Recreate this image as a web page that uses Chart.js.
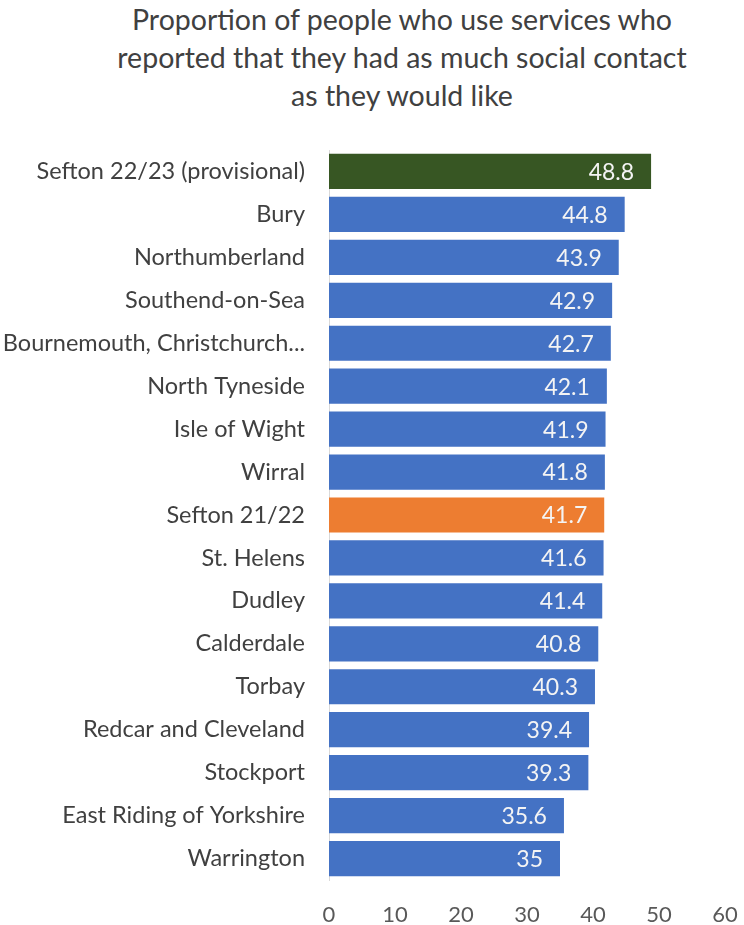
<!DOCTYPE html>
<html>
<head>
<meta charset="utf-8">
<script src="https://cdn.jsdelivr.net/npm/chart.js@4.4.1/dist/chart.umd.min.js"></script>
<style>
  html, body { margin: 0; padding: 0; background: #fff; }
  .wrap { position: relative; width: 744px; height: 925px; }
  .title {
    position: absolute; left: 60px; right: 0; top: 0px;
    text-align: center; font-family: Lato, sans-serif; font-size: 28.5px;
    line-height: 38px; color: #404040;
  }
  canvas { position: absolute; left: 0; top: 0; }
</style>
</head>
<body>
<div class="wrap">
  <div class="title">Proportion of people who use services who<br>reported that they had as much social contact<br>as they would like</div>
  <canvas id="c" width="744" height="925"></canvas>
</div>
<script>
// Social contact measure by local authority, sorted high to low.
const areas = [
  "Sefton 22/23 (provisional)", "Bury", "Northumberland", "Southend-on-Sea",
  "Bournemouth, Christchurch...", "North Tyneside", "Isle of Wight", "Wirral",
  "Sefton 21/22", "St. Helens", "Dudley", "Calderdale", "Torbay",
  "Redcar and Cleveland", "Stockport", "East Riding of Yorkshire", "Warrington",
];
const values = [48.8, 44.8, 43.9, 42.9, 42.7, 42.1, 41.9, 41.8, 41.7, 41.6, 41.4, 40.8, 40.3, 39.4, 39.3, 35.6, 35];
const xTicks = [0, 10, 20, 30, 40, 50, 60];

const BLUE = "#4472c4", GREEN = "#375623", ORANGE = "#ed7d31";
const barColors = areas.map((a) =>
  a.startsWith("Sefton 22/23") ? GREEN : a.startsWith("Sefton 21/22") ? ORANGE : BLUE);

// white value label just inside the end of each bar
const endLabels = {
  id: "endLabels",
  afterDatasetsDraw(chart) {
    const { ctx } = chart;
    const meta = chart.getDatasetMeta(0);
    ctx.save();
    ctx.font = "23px Lato, sans-serif";
    ctx.fillStyle = "#f4f4f4";
    ctx.textAlign = "right";
    ctx.textBaseline = "middle";
    meta.data.forEach((bar, i) => {
      ctx.fillText(String(values[i]), bar.x - 17, bar.y + 1);
    });
    ctx.restore();
  },
};

new Chart(document.getElementById("c"), {
  type: "bar",
  data: {
    labels: areas,
    datasets: [{
      data: values,
      backgroundColor: barColors,
      borderWidth: 0,
      barPercentage: 0.82,
      categoryPercentage: 1,
    }],
  },
  options: {
    indexAxis: "y",
    responsive: false,
    animation: false,
    layout: { padding: { top: 150, bottom: 0, left: 0, right: 0 } },
    plugins: { legend: { display: false }, tooltip: { enabled: false } },
    scales: {
      x: {
        min: 0, max: 60,
        afterBuildTicks: (axis) => { axis.ticks = xTicks.map((v) => ({ value: v })); },
        afterFit: (axis) => {
          axis.height = 45;
          // tick padding would otherwise widen the right margin
          axis.paddingLeft = 0;
          axis.paddingRight = 19;
        },
        grid: { display: false, drawTicks: false },
        border: { display: false },
        ticks: { color: "#595959", font: { family: "Lato", size: 22 }, padding: 22, maxRotation: 0 },
      },
      y: {
        afterFit: (axis) => { axis.width = 329; },
        grid: { display: false, drawTicks: false },
        border: { display: true, color: "#d9d9d9", width: 1 },
        ticks: { color: "#404040", font: { family: "Lato", size: 23.5 }, padding: 24, autoSkip: false },
      },
    },
  },
  plugins: [endLabels],
});
</script>
</body>
</html>
